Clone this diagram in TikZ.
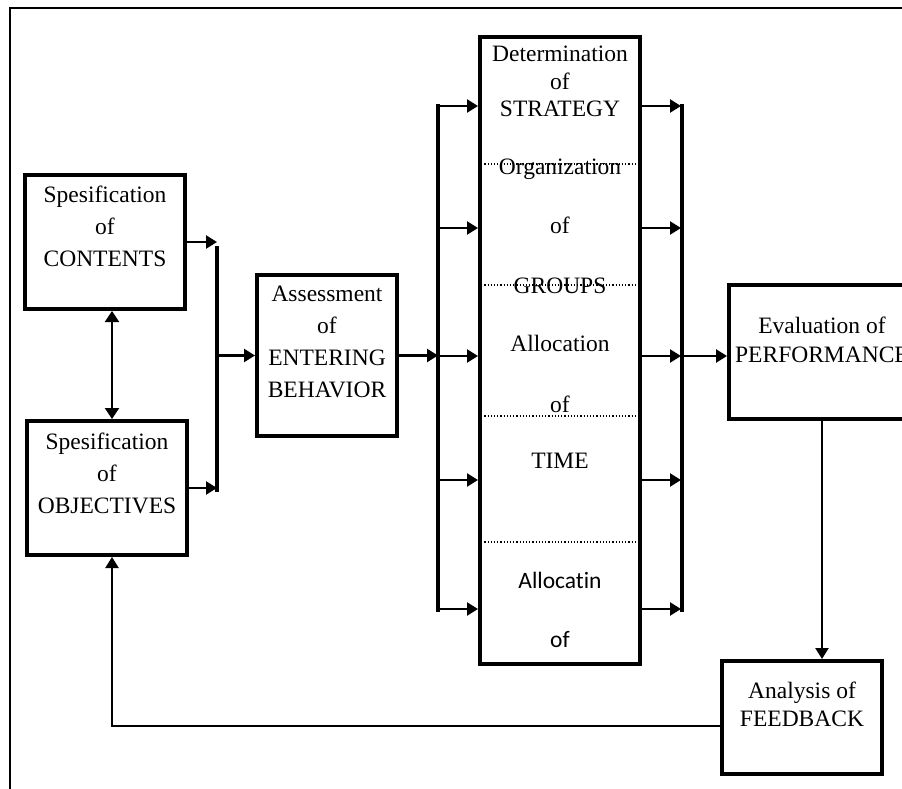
\documentclass[tikz,border=0pt]{standalone}
\usepackage{fontspec}
\setmainfont{Liberation Serif}
\newfontfamily\calibri[Ligatures=NoCommon]{Carlito}
\usetikzlibrary{arrows.meta}

\begin{document}
\begin{tikzpicture}[x=1pt,y=-1pt,
    box/.style={draw,line width=4pt,align=center,inner sep=0pt,
        font=\fontsize{23.5}{32}\selectfont},
    txt/.style={anchor=base,inner sep=0pt,font=\fontsize{23.5}{28}\selectfont},
    arr/.style={line width=2.3pt,-{Triangle[length=11pt,width=13pt]}},
    bus/.style={line width=3.5pt},
    sep/.style={dotted,line width=1.2pt}]
    \clip (0,0) rectangle (902,789);
    \draw[line width=1.5pt] (10,8) rectangle (930,820);

    % left column
    \node[box,minimum width=160pt,minimum height=134pt] (cont) at (105,242)
        {Spesification\\of\\CONTENTS\\\mbox{}};
    \node[box,minimum width=160pt,minimum height=134pt] (obj) at (107,488)
        {Spesification\\of\\OBJECTIVES\\[-2.5pt]\mbox{}};
    \node[box,minimum width=140pt,minimum height=161pt] (assess) at (327,355.5)
        {Assessment\\of\\ENTERING\\BEHAVIOR\\[-5pt]\mbox{}};

    % strategy column
    \node[box,minimum width=160pt,minimum height=627pt] (strat) at (560,350.5) {};
    \foreach \t/\y [count=\i] in {Determination/62,of/90,STRATEGY/117,
        Organization/175,of/233,GROUPS/293,Allocation/351,of/412,TIME/468}
        \node[txt] (s\i) at (560,\y) {\t};
    \node[txt,font=\calibri\fontsize{23.5}{28}\selectfont] (s10) at (560,588) {Allocatin};
    \node[txt,font=\calibri\fontsize{23.5}{28}\selectfont] (s11) at (560,647) {of};
    \foreach \y in {164,285,416,542}
        \draw[sep] (strat.west |- 0,\y) -- (strat.east |- 0,\y);

    % right column
    \node[box,minimum width=186pt,minimum height=134pt,
        font=\fontsize{23.5}{29}\selectfont] (eval) at (822,352)
        {Evaluation of\\PERFORMANCE\\[-4pt]\mbox{}};
    \node[box,minimum width=160pt,minimum height=113pt,
        font=\fontsize{23.5}{28}\selectfont] (ana) at (802,717.5)
        {Analysis of\\FEEDBACK\\[-1pt]\mbox{}};

    % buses
    \coordinate (b1t) at (217,246);
    \coordinate (b1b) at (217,492);
    \coordinate (b2t) at (438,104);
    \coordinate (b2b) at (438,612);
    \coordinate (b3t) at (682,104);
    \coordinate (b3b) at (682,612);
    \draw[bus] (b1t) -- (b1b);
    \draw[bus] (b2t) -- (b2b);
    \draw[bus] (b3t) -- (b3b);

    \draw[arr] (cont.east) -- (cont.east -| b1t);
    \draw[arr] (obj.east) -- (obj.east -| b1t);
    \draw[arr] (b1t |- assess.west) -- (assess.west);
    \draw[arr] (assess.east) -- (assess.east -| b2t);
    \foreach \y [count=\i] in {106,228,356,480,609} {
        \coordinate (in\i) at (438,\y);
        \coordinate (out\i) at (681,\y);
        \draw[arr] (in\i) -- (in\i -| strat.west);
        \draw[arr] (out\i -| strat.east) -- (out\i);
    }
    \draw[arr] (out3) -- (out3 -| eval.west);
    \draw[arr] (eval.south) -- (eval.south |- ana.north);

    % feedback loop
    \coordinate (fb) at (112,726);
    \draw[arr] (ana.west |- fb) -- (fb) -- (obj.south -| fb);
    \draw[line width=2.3pt,{Triangle[length=11pt,width=14pt]}-{Triangle[length=11pt,width=14pt]}]
        (cont.south -| fb) -- (obj.north -| fb);
\end{tikzpicture}
\end{document}
